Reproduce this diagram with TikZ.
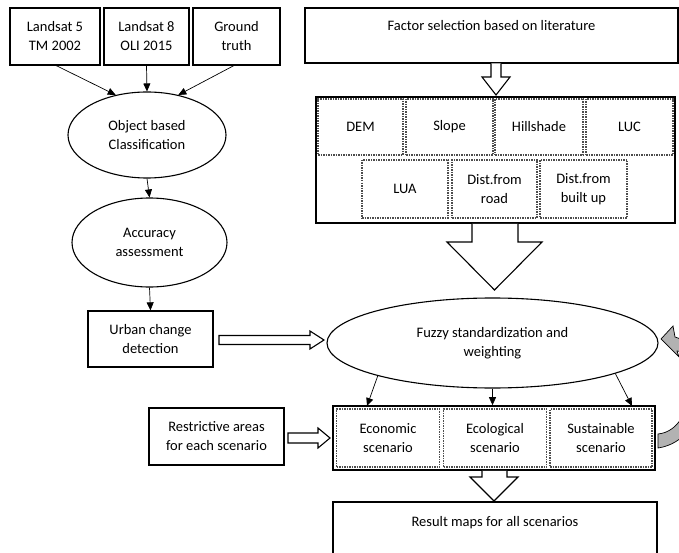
\documentclass[tikz,border=0pt]{standalone}
\usepackage{fontspec}
\setmainfont{Carlito}
\usetikzlibrary{arrows.meta,shapes.geometric}
\newcommand{\figfont}{\fontsize{14.5}{19}\selectfont}
\begin{document}
\begin{tikzpicture}[x=1pt,y=-1pt,
  box/.style={draw, line width=1.3pt, rectangle, inner sep=0pt, align=center, font=\figfont},
  ell/.style={draw, line width=1.1pt, ellipse, inner sep=0pt, align=center, font=\figfont},
  cell/.style={draw=black!70, densely dotted, line width=1.5pt, rectangle, inner sep=0pt, align=center, font=\figfont},
  framebox/.style={draw, line width=1.6pt, rectangle, inner sep=0pt},
  arr/.style={-{Triangle[length=8pt,width=7pt]}, line width=0.7pt},
  hollow/.style={draw, line width=1.1pt, fill=white, line join=miter},
  txt/.style={inner sep=0pt, font=\figfont, align=center}
]
\useasboundingbox (0,0) rectangle (679,553);
\clip (0,0) rectangle (679,553);

% left column
\node[box, minimum width=90, minimum height=57] (ls5) at (55,36.5) {Landsat 5\\TM 2002};
\node[box, minimum width=85, minimum height=57] (ls8) at (146.5,36.5) {Landsat 8\\OLI 2015};
\node[box, minimum width=87, minimum height=57] (gt) at (236.5,36.5) {Ground\\truth};
\node[ell, minimum width=158, minimum height=86] (obc) at (147,135) {Object based\\Classification};
\node[ell, minimum width=155, minimum height=89] (acc) at (149.5,242.5) {Accuracy\\assessment};
\node[box, minimum width=125, minimum height=56] (ucd) at (150.5,339) {Urban change\\detection};

\draw[arr] (55,65) -- (obc.128);
\draw[arr] (ls8.south) -- (obc.north);
\draw[arr] (235,65) -- (obc.52);
\draw[arr] (obc.south) -- (acc.north);
\draw[arr] (acc.south) -- (ucd.north);

% factor selection
\node[box, minimum width=373, minimum height=55] (fac) at (491.5,35.5) {};
\node[txt] (factxt) at (491.5,26) {Factor selection based on literature};
\draw[hollow] (491,63.5) -- (491,77) -- (482,77) -- (496,95) -- (510,77) -- (501,77) -- (501,63.5);

\node[framebox, minimum width=359, minimum height=126] (facts) at (495.5,160) {};
\node[cell, minimum width=85, minimum height=56] (dem) at (360.5,127) {DEM};
\node[cell, minimum width=87, minimum height=56] (slope) at (449.5,127) {Slope};
\node[cell, minimum width=88, minimum height=56] (hill) at (539,127) {Hillshade};
\node[cell, minimum width=87, minimum height=56] (luc) at (629.5,127) {LUC};
\node[cell, minimum width=86, minimum height=58] (lua) at (405,189) {LUA};
\node[cell, minimum width=85, minimum height=58] (road) at (494.5,189) {Dist.from\\road};
\node[cell, minimum width=87, minimum height=58] (built) at (583.5,189) {Dist.from\\built up};

\draw[hollow] (472,223.8) -- (472,242) -- (447,242) -- (494.5,290) -- (542,242) -- (518,242) -- (518,223.8);

% fuzzy
\node[ell, minimum width=331, minimum height=90] (fuzzy) at (492.5,343) {Fuzzy standardization and\\weighting};
\draw[hollow] (219,335.5) -- (310,335.5) -- (310,331) -- (324,340) -- (310,349) -- (310,344.5) -- (219,344.5) -- cycle;

% restrictive
\node[box, minimum width=135, minimum height=57] (restr) at (216.5,436.5) {Restrictive areas\\for each scenario};
\draw[hollow] (288,433) -- (318,433) -- (318,428) -- (330,438) -- (318,448) -- (318,443) -- (288,443) -- cycle;

% scenarios
\node[framebox, minimum width=322, minimum height=64] (scen) at (494,438) {};
\node[cell, minimum width=103, minimum height=58] (econ) at (388,438) {Economic\\scenario};
\node[cell, minimum width=103, minimum height=58] (ecol) at (495,438) {Ecological\\scenario};
\node[cell, minimum width=102, minimum height=58] (sust) at (601,438) {Sustainable\\scenario};

\coordinate (t1) at (367,406);
\coordinate (t3) at (632,406);
\draw[arr] (fuzzy.196.7) -- (t1);
\draw[arr] (fuzzy.south) -- (fuzzy.south |- scen.north);
\draw[arr] (fuzzy.346.2) -- (t3);

% curved gray feedback arrow
\draw[fill=black!30, line width=0.7pt, line join=miter]
  (658,448) .. controls (712,440) and (714,352) .. (677,351)
  -- (679,357) -- (661,339) -- (673,326) -- (675,337)
  .. controls (700,340) and (700,430) .. (658,434) -- cycle;

% result
\draw[hollow] (482,470.8) -- (482,477) -- (470,477) -- (494,501) -- (518,477) -- (507,477) -- (507,470.8);
\node[box, minimum width=324, minimum height=70] (res) at (495,537) {};
\node[txt] (restxt) at (495,523) {Result maps for all scenarios};
\end{tikzpicture}
\end{document}
